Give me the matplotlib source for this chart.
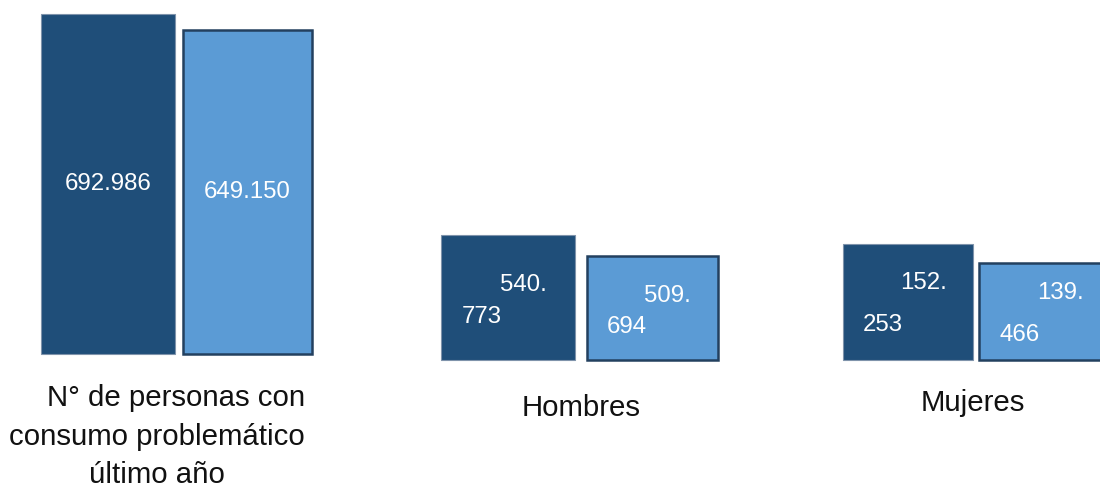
import matplotlib
matplotlib.use("Agg")
import matplotlib.pyplot as plt

plt.rcParams['font.family'] = ['Liberation Sans', 'DejaVu Sans']

# ---- data ----
categories = ["N° de personas con\nconsumo problemático\núltimo año", "Hombres", "Mujeres"]
serie_a = [692986, 540773, 152253]   # dark blue
serie_b = [649150, 509694, 139466]   # light blue

DARK = "#1f4e79"
LIGHT = "#5b9bd5"

def fmt(v):
    return f"{v:,}".replace(",", ".")

W, H = 1100, 488
fig = plt.figure(figsize=(W / 100, H / 100), dpi=100)

# layout per panel (pixel geometry of the slide)
panels = [
    dict(c0=108, s=139.5, wa=0.96, wb=0.925, base=353.5, ylim=(-235794, 731343), wrap=None),
    dict(c0=508, s=144.5, wa=0.927, wb=0.907, base=360, ylim=(355773, 888563),
         wrap=((15, 12), (-26, -19.5))),
    dict(c0=908, s=136.5, wa=0.95, wb=0.96, base=360, ylim=(74185, 316466),
         wrap=((16, 19), (-25, -23))),
]

FS_IN = 17.3
for i, p in enumerate(panels):
    left = (p['c0'] - p['s']) / W
    width = 3 * p['s'] / W
    bottom = (H - p['base']) / H
    height = p['base'] / H
    ax = fig.add_axes([left, bottom, width, height])
    ax.set_xlim(-1, 2)
    ymin, ymax = p['ylim']
    ax.set_ylim(ymin, ymax)
    ax.axis('off')
    vals = [serie_a[i], serie_b[i]]
    ax.bar(0, vals[0] - ymin, bottom=ymin, width=p['wa'], color=DARK,
           edgecolor="#7f93ab", linewidth=0.8, clip_on=False)
    ax.bar(1, vals[1] - ymin, bottom=ymin, width=p['wb'], color=LIGHT,
           edgecolor="#23405f", linewidth=1.8, clip_on=False)
    for x, v in zip([0, 1], vals):
        ymid = (v + ymin) / 2
        s = fmt(v)
        if p['wrap'] is None:
            ax.annotate(s, (x, ymid), ha='center', va='center', color='white',
                        fontsize=FS_IN)
        else:
            a, b = s.split('.')
            (o1, o2) = p['wrap']
            ax.annotate(a + '.', (x, ymid), xytext=o1, textcoords='offset pixels',
                        ha='center', va='center', color='white', fontsize=FS_IN)
            ax.annotate(b, (x, ymid), xytext=o2, textcoords='offset pixels',
                        ha='center', va='center', color='white', fontsize=FS_IN)

# category labels
FS = 21.2
lines = categories[0].split("\n")
fig.text(176 / W, 1 - 398 / H, lines[0], ha='center', va='center', fontsize=FS, color='#111111')
fig.text(157 / W, 1 - 437 / H, lines[1], ha='center', va='center', fontsize=FS, color='#111111')
fig.text(157 / W, 1 - 475 / H, lines[2], ha='center', va='center', fontsize=FS, color='#111111')
fig.text(581 / W, 1 - 408 / H, categories[1], ha='center', va='center', fontsize=FS, color='#111111')
fig.text(973 / W, 1 - 403 / H, categories[2], ha='center', va='center', fontsize=FS, color='#111111')

fig.savefig("out.png", dpi=100, facecolor='white')
